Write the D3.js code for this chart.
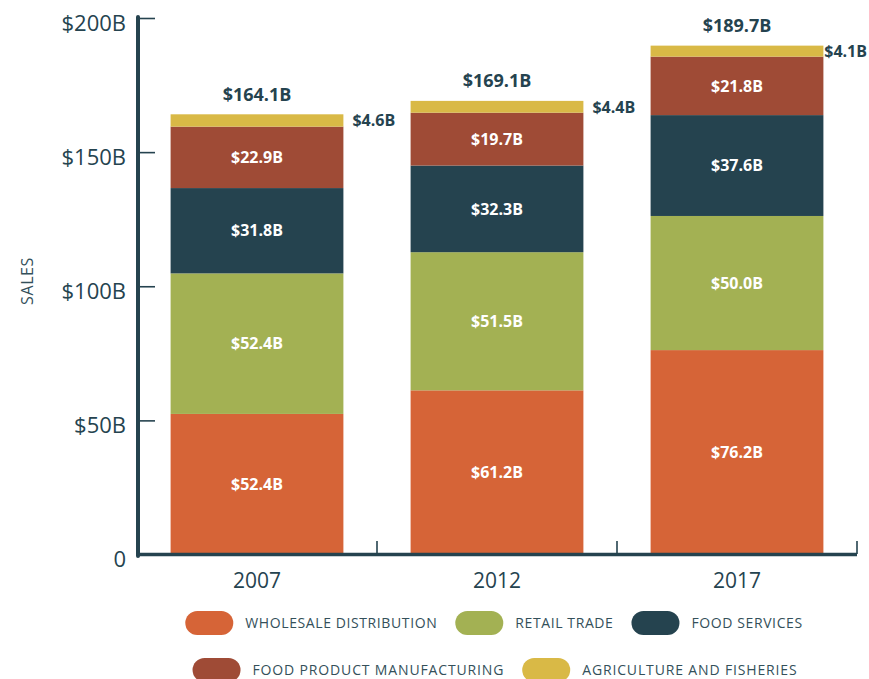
<!DOCTYPE html>
<html><head><meta charset="utf-8">
<script src="https://cdn.jsdelivr.net/npm/d3@7"></script>
<style>
body{margin:0;background:#fff;}
svg{display:block;font-family:"Open Sans",Lato,sans-serif;}
</style></head>
<body><svg id="chart" width="869" height="679"></svg>
<script>
const years = ["2007","2012","2017"];
const seriesNames = ["WHOLESALE DISTRIBUTION","RETAIL TRADE","FOOD SERVICES","FOOD PRODUCT MANUFACTURING","AGRICULTURE AND FISHERIES"];
const seriesColors = ["#D66437","#A3B153","#25434F","#9F4B36","#D9B946"];
const wholesale = [52.4, 61.2, 76.2];
const retail = [52.4, 51.5, 50.0];
const foodServices = [31.8, 32.3, 37.6];
const manufacturing = [22.9, 19.7, 21.8];
const agriculture = [4.6, 4.4, 4.1];
const totals = [164.1, 169.1, 189.7];
const yTicks = [0, 50, 100, 150, 200];

const dark = "#25434F";
const svg = d3.select("#chart");
const keys = ["w","r","f","m","a"];
const table = years.map((y,i)=>({year:y,w:wholesale[i],r:retail[i],f:foodServices[i],m:manufacturing[i],a:agriculture[i],total:totals[i]}));
const stack = d3.stack().keys(keys)(table);

const x = d3.scaleBand().domain(years).range([137,857]).paddingInner(0.28).paddingOuter(0.14);
const y = d3.scaleLinear().domain([0,200]).range([554.5,18]);

// bars
stack.forEach((layer,li)=>{
  svg.append("g").selectAll("rect").data(layer).join("rect")
    .attr("x",d=>x(d.data.year)).attr("width",x.bandwidth())
    .attr("y",d=>y(d[1])).attr("height",d=>y(d[0])-y(d[1]))
    .attr("fill",seriesColors[li]);
});

// inner labels (first four series)
stack.slice(0,4).forEach(layer=>{
  svg.append("g").selectAll("text").data(layer).join("text")
    .attr("x",d=>x(d.data.year)+x.bandwidth()/2)
    .attr("y",d=>(y(d[0])+y(d[1]))/2)
    .attr("dy","0.36em").attr("text-anchor","middle")
    .attr("fill","#fff").attr("font-weight",700).attr("font-size",16)
    .text(d=>"$"+(d[1]-d[0]).toFixed(1)+"B");
});
// agriculture labels to the right
svg.append("g").selectAll("text").data(stack[4]).join("text")
  .attr("y",d=>(y(d[0])+y(d[1]))/2)
  .attr("dy","0.36em").attr("fill",dark).attr("font-weight",700).attr("font-size",16)
  .text(d=>"$"+(d[1]-d[0]).toFixed(1)+"B")
  .attr("x",function(d){
    const w = this.getComputedTextLength();
    return Math.min(x(d.data.year)+x.bandwidth()+9, 867-w);
  });
// totals
svg.append("g").selectAll("text").data(table).join("text")
  .attr("x",d=>x(d.year)+x.bandwidth()/2)
  .attr("y",d=>y(d.total)-20)
  .attr("dy","0.36em").attr("text-anchor","middle")
  .attr("fill",dark).attr("font-weight",700).attr("font-size",18)
  .text(d=>"$"+d.total.toFixed(1)+"B");

// y axis
const yAxis = svg.append("g").attr("transform","translate(138,0)")
  .call(d3.axisRight(y).tickValues(yTicks).tickSize(17).tickFormat(""));
yAxis.select(".domain").remove();
yAxis.selectAll(".tick line").attr("stroke",dark).attr("stroke-width",1.6);
svg.append("line").attr("x1",138).attr("x2",138).attr("y1",y(200)-1).attr("y2",y(0)+1.5)
  .attr("stroke",dark).attr("stroke-width",4).attr("stroke-linecap","round");
svg.append("g").selectAll("text").data(yTicks).join("text")
  .attr("x",126).attr("y",d=>y(d)+5).attr("dy","0.36em").attr("text-anchor","end")
  .attr("fill",dark).attr("font-size",22)
  .text(d=>d===0?"0":"$"+d+"B");

// x axis
svg.append("line").attr("x1",137).attr("x2",857).attr("y1",554.5).attr("y2",554.5)
  .attr("stroke",dark).attr("stroke-width",3.5);
const step = x.step();
svg.append("g").selectAll("line").data(years).join("line")
  .attr("x1",d=>x(d)+x.bandwidth()+step*x.paddingInner()/2)
  .attr("x2",d=>x(d)+x.bandwidth()+step*x.paddingInner()/2)
  .attr("y1",541).attr("y2",554).attr("stroke",dark).attr("stroke-width",1.6);
svg.append("g").selectAll("text").data(years).join("text")
  .attr("x",d=>x(d)+x.bandwidth()/2).attr("y",580).attr("dy","0.36em")
  .attr("text-anchor","middle").attr("fill",dark).attr("font-size",21).text(d=>d);

// y title
svg.append("text").attr("transform","translate(27,281) rotate(-90)")
  .attr("text-anchor","middle").attr("dy","0.36em")
  .attr("fill","#34505a").attr("font-size",16).attr("letter-spacing",0.6).text("SALES");

// legend
const rows = [[0,1,2],[3,4]];
const rowY = [623,670];
const rowCenter = [494,495];
rows.forEach((row,ri)=>{
  const g = svg.append("g");
  let cx = 0;
  row.forEach(si=>{
    g.append("rect").attr("x",cx).attr("y",rowY[ri]-12).attr("width",48).attr("height",24)
      .attr("rx",12).attr("fill",seriesColors[si]);
    const t = g.append("text").attr("x",cx+60).attr("y",rowY[ri]).attr("dy","0.36em")
      .attr("fill","#34505a").attr("font-size",14).attr("letter-spacing",ri===0?0.6:0.85).text(seriesNames[si]);
    cx += 60 + t.node().getComputedTextLength() + 18;
  });
  const w = cx - 18;
  g.attr("transform",`translate(${rowCenter[ri] - w/2},0)`);
});
</script></body></html>
